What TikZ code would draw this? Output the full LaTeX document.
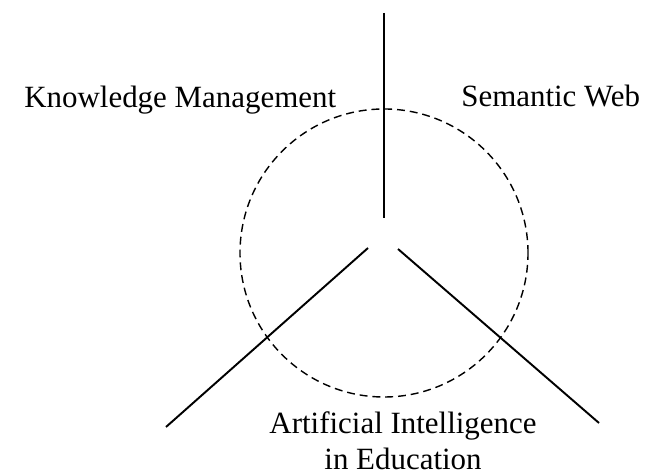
\documentclass[tikz,border=0pt]{standalone}
\usepackage{fontspec}
\setmainfont{Liberation Serif}
\begin{document}
\begin{tikzpicture}[every node/.style={font=\fontsize{17.6}{20.3}\selectfont, inner sep=0pt}]
\useasboundingbox (0,0) rectangle (12.94,9.48);
\draw[color=black, style=dashed, dash pattern=on 4.5pt off 2.8pt, line width=0.8pt] (7.68,4.42) circle (2.88);
\coordinate (top1) at (7.68,9.22);
\coordinate (top2) at (7.68,5.12);
\coordinate (left1) at (7.36,4.52);
\coordinate (left2) at (3.32,0.94);
\coordinate (right1) at (7.96,4.50);
\coordinate (right2) at (11.98,1.02);
\draw [line width=1.1pt] (top1) -- (top2);
\draw [line width=1.1pt] (left1) -- (left2);
\draw [line width=1.1pt] (right1) -- (right2);
\node[anchor=base west] (km) at (0.48,7.32) {Knowledge Management};
\node[anchor=base west] (sw) at (9.22,7.34) {Semantic Web};
\node[anchor=base, align=center] (aied) at (8.06,0.09) {Artificial Intelligence\\in Education};
\end{tikzpicture}
\end{document}
